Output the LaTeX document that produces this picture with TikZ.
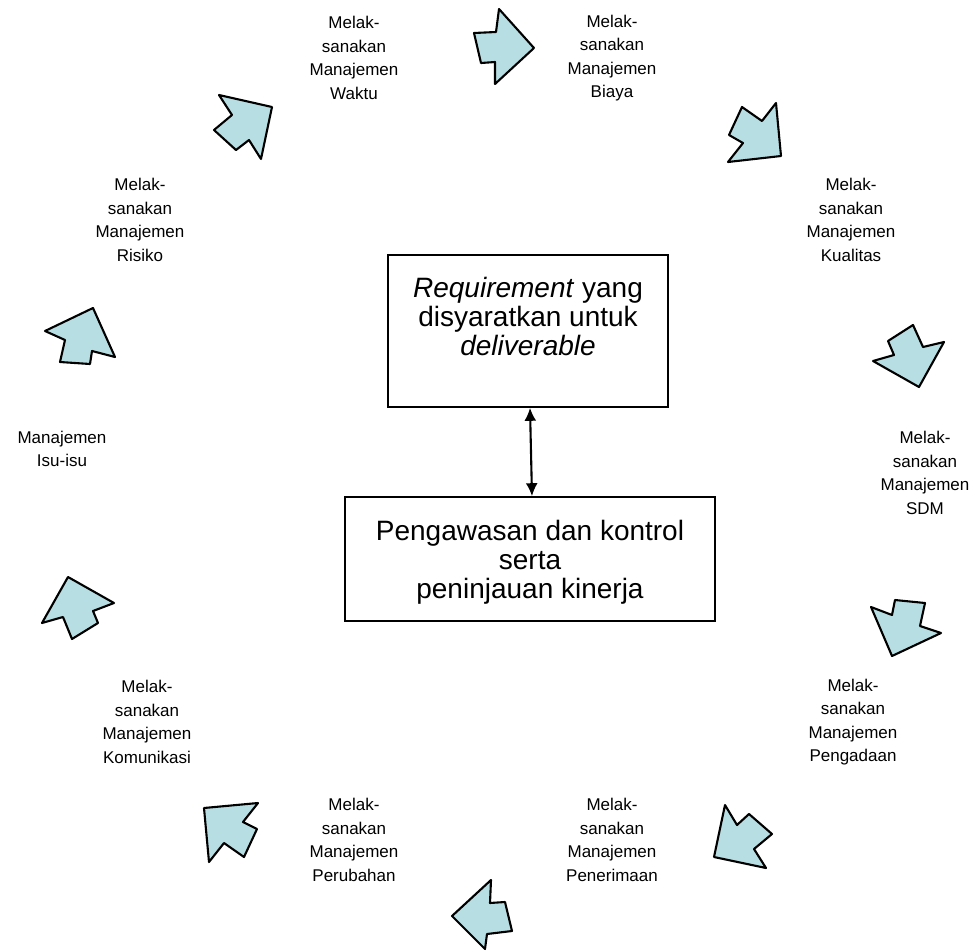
\documentclass[tikz,border=0pt]{standalone}
\usepackage{fontspec}
\setmainfont{Liberation Sans}
\usetikzlibrary{arrows.meta}
\definecolor{arrowfill}{RGB}{183,222,226}
\begin{document}
\begin{tikzpicture}[x=1pt,y=-1pt,
  blockarrow/.style={draw=black, line width=2.1pt, fill=arrowfill, line join=round},
  steplabel/.style={align=center, inner sep=0pt, font=\fontsize{17}{23.5}\selectfont},
  mainbox/.style={draw=black, line width=1.6pt, align=center, inner sep=0pt,
    font=\fontsize{28}{29}\selectfont},
  link/.style={line width=2.1pt, {Latex[length=13pt,width=12pt]}-{Latex[length=13pt,width=12pt]}}]
\useasboundingbox (0,0) rectangle (975,951);

% central boxes
\node[mainbox, minimum width=280, minimum height=152] (req) at (528,331)
  {\textit{Requirement} yang\\disyaratkan untuk\\\textit{deliverable}\\\mbox{}};
\node[mainbox, minimum width=370, minimum height=124, text depth=0pt] (ctrl) at (530,559)
  {Pengawasan dan kontrol\\serta\\peninjauan kinerja};
\draw[link] ([xshift=2pt]req.south) -- ([xshift=2pt]ctrl.north);

% cycle labels
\node[steplabel] (waktu) at (354,58) {Melak-\\sanakan\\Manajemen\\Waktu};
\node[steplabel] (biaya) at (612,58) {Melak-\\sanakan\\Manajemen\\Biaya};
\node[steplabel] (kualitas) at (851,220) {Melak-\\sanakan\\Manajemen\\Kualitas};
\node[steplabel] (sdm) at (925,473) {Melak-\\sanakan\\Manajemen\\SDM};
\node[steplabel] (pengadaan) at (853,722) {Melak-\\sanakan\\Manajemen\\Pengadaan};
\node[steplabel] (penerimaan) at (612,840) {Melak-\\sanakan\\Manajemen\\Penerimaan};
\node[steplabel] (perubahan) at (354,840) {Melak-\\sanakan\\Manajemen\\Perubahan};
\node[steplabel] (komunikasi) at (147,722) {Melak-\\sanakan\\Manajemen\\Komunikasi};
\node[steplabel] (isu) at (62,449) {Manajemen\\Isu-isu};
\node[steplabel] (risiko) at (140,220) {Melak-\\sanakan\\Manajemen\\Risiko};

% notched block arrows between the steps
\draw[blockarrow] (474,33) -- (496,32) -- (499,9) -- (534,48) -- (495,84) -- (495,62) -- (481,63) -- cycle;
\draw[blockarrow] (219,95) -- (272,107) -- (261,159) -- (249,140) -- (236,150) -- (214,130) -- (232,115) -- cycle;
\draw[blockarrow] (742,107) -- (762,121) -- (776,103) -- (781,156) -- (728,162) -- (743,143) -- (729,135) -- cycle;
\draw[blockarrow] (873,361) -- (894,355) -- (888,341) -- (913,325) -- (923,347) -- (944,342) -- (919,387) -- cycle;
\draw[blockarrow] (871,607) -- (892,615) -- (895,600) -- (925,603) -- (920,626) -- (941,633) -- (892,656) -- cycle;
\draw[blockarrow] (725,805) -- (737,825) -- (749,814) -- (772,834) -- (754,849) -- (766,868) -- (714,857) -- cycle;
\draw[blockarrow] (491,880) -- (490,903) -- (505,902) -- (512,931) -- (487,934) -- (485,949) -- (452,916) -- cycle;
\draw[blockarrow] (204,808) -- (258,803) -- (243,822) -- (257,829) -- (244,857) -- (224,843) -- (209,862) -- cycle;
\draw[blockarrow] (68,577) -- (114,603) -- (93,611) -- (98,623) -- (72,639) -- (63,617) -- (42,623) -- cycle;
\draw[blockarrow] (45,331) -- (93,308) -- (115,357) -- (92,351) -- (90,364) -- (60,362) -- (65,340) -- cycle;
\end{tikzpicture}
\end{document}
